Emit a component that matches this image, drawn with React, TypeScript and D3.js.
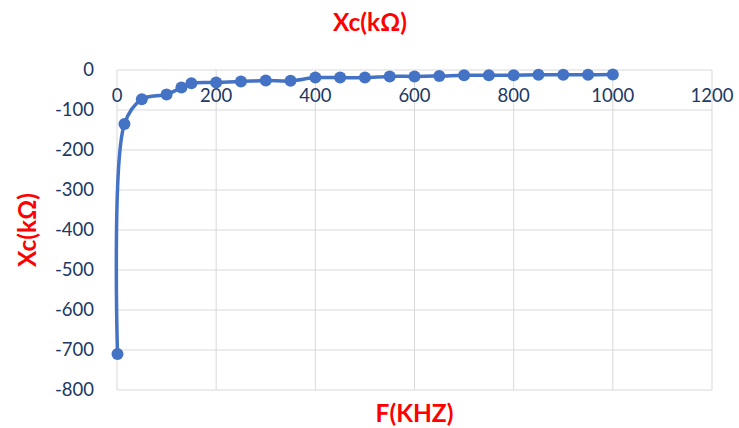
import React from "react";
import * as d3 from "d3";

const freq = [1, 15, 50, 100, 130, 150, 200, 250, 300, 350, 400, 450, 500, 550, 600, 650, 700, 750, 800, 850, 900, 950, 1000];
const xc = [-710, -135, -73, -61, -44, -33, -31, -29, -26, -27, -19, -19, -19, -16, -16, -15, -13, -13, -13, -12, -12, -12, -11];
const xTicks = [0, 200, 400, 600, 800, 1000, 1200];
const yTicks = [0, -100, -200, -300, -400, -500, -600, -700, -800];
const chartTitle = "Xc(kΩ)";
const xTitle = "F(KHZ)";
const yTitle = "Xc(kΩ)";

export default function App() {
  const W = 739, H = 428;
  const x = d3.scaleLinear().domain([0, 1200]).range([117, 712]);
  const y = d3.scaleLinear().domain([0, -800]).range([70, 390]);
  const pts = freq.map((f, i) => [f, xc[i]] as [number, number]);
  const line = d3.line<[number, number]>()
    .x(d => x(d[0]))
    .y(d => y(d[1]))
    .curve(d3.curveCatmullRom.alpha(0.5));
  const font = "Lato, 'Open Sans', sans-serif";
  const tickColor = "#203864";
  const grid = "#d9d9d9";
  const blue = "#4472C4";
  return (
    <svg width={W} height={H} style={{ position: "absolute", left: 0, top: 0, background: "#fff" }}>
      {yTicks.map(t => (
        <line key={"gy" + t} x1={x(0)} x2={x(1200)} y1={y(t)} y2={y(t)} stroke={grid} strokeWidth={1} />
      ))}
      {xTicks.map(t => (
        <line key={"gx" + t} x1={x(t)} x2={x(t)} y1={y(0)} y2={y(-800)} stroke={grid} strokeWidth={1} />
      ))}
      {yTicks.map(t => (
        <text key={"ty" + t} x={94} y={y(t)} dy="0.35em" textAnchor="end" fontFamily={font} fontSize={18.5} fill={tickColor}>
          {t}
        </text>
      ))}
      {xTicks.map(t => (
        <text key={"tx" + t} x={x(t)} y={y(0) + 32} textAnchor="middle" fontFamily={font} fontSize={18.5} fill={tickColor}>
          {t}
        </text>
      ))}
      <path d={line(pts) || ""} fill="none" stroke={blue} strokeWidth={3.5} />
      {pts.map((p, i) => (
        <circle key={"p" + i} cx={x(p[0])} cy={y(p[1])} r={6} fill={blue} />
      ))}
      <text x={370} y={31} textAnchor="middle" fontFamily={font} fontWeight="bold" fontSize={24.5} fill="#ff0000">{chartTitle}</text>
      <text x={(x(0) + x(1200)) / 2} y={422} textAnchor="middle" fontFamily={font} fontWeight="bold" fontSize={24.5} fill="#ff0000">{xTitle}</text>
      <text transform={`translate(36,230) rotate(-90)`} textAnchor="middle" fontFamily={font} fontWeight="bold" fontSize={24.5} fill="#ff0000">{yTitle}</text>
    </svg>
  );
}
